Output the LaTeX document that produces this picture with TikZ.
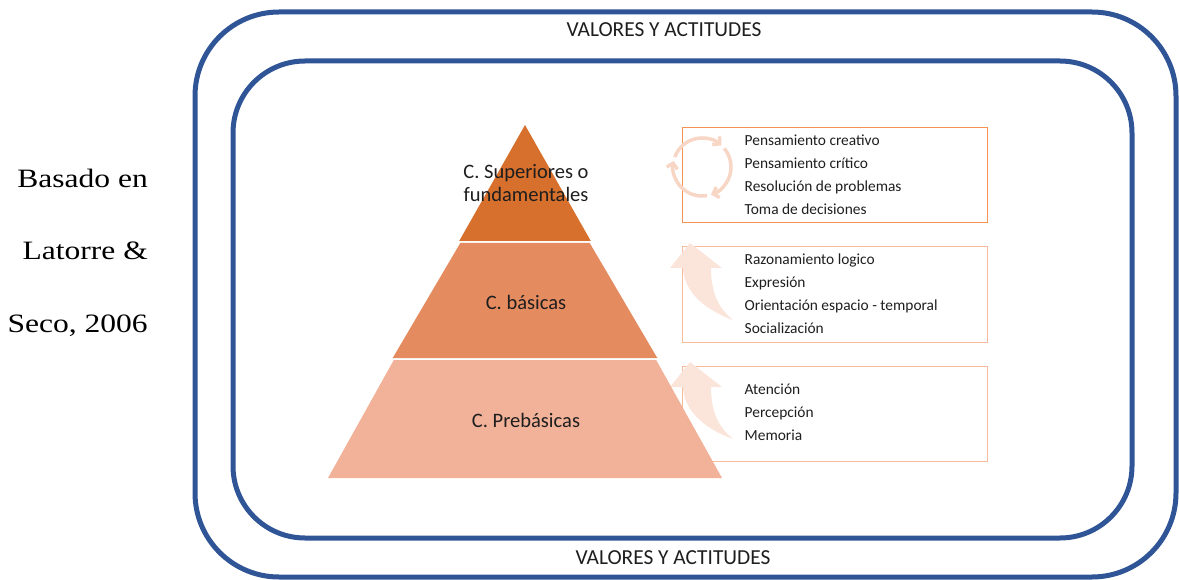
\documentclass[tikz,border=0pt]{standalone}
\usepackage{fontspec}
\setmainfont{Carlito}
\newfontfamily\refserif{Liberation Serif}
\definecolor{frameblue}{RGB}{47, 85, 151}
\definecolor{supdark}{RGB}{214, 112, 44}
\definecolor{basmid}{RGB}{229, 139, 96}
\definecolor{prelight}{RGB}{242, 178, 154}
\definecolor{boxorange}{RGB}{244, 146, 84}
\definecolor{boxpeach}{RGB}{248, 188, 156}
\definecolor{iconpeach}{RGB}{248, 214, 198}
\definecolor{arrowpeach}{RGB}{251, 229, 218}
\definecolor{textdark}{RGB}{30, 30, 30}
\usetikzlibrary{arrows.meta, positioning}

\begin{document}
\begin{tikzpicture}[x=1pt, y=-1pt,
  frame/.style={draw=frameblue, line width=5pt, rounded corners=#1},
  itembox/.style={draw=#1, line width=1pt, minimum width=305pt, minimum height=95pt, inner sep=0pt},
  items/.style={anchor=west, align=left, inner sep=0pt, text=textdark,
                font=\fontsize{15.4}{23}\selectfont},
  level/.style={text=textdark, align=center, inner sep=0pt,
                font=\fontsize{20.5}{22.5}\selectfont},
  valores/.style={text=textdark, inner sep=0pt, font=\fontsize{21.4}{24}\selectfont},
  source/.style={anchor=base east, inner sep=0pt, xscale=1.19,
                 font=\refserif\fontsize{26.5}{30}\selectfont},
]
\useasboundingbox (0,0) rectangle (1179,580);

% Frames: values and attitudes
\draw[frame=84pt] (195,12) rectangle (1176,577);
\draw[frame=72pt] (233,61) rectangle (1132,538);
\node[valores] (valtop) at (664,30) {VALORES Y ACTITUDES};
\node[valores] (valbot) at (673,558) {VALORES Y ACTITUDES};

% Source on the left
\node[source] (src1) at (148,188) {Basado en};
\node[source] (src2) at (148,260) {Latorre \&};
\node[source] (src3) at (148,333) {Seco, 2006};

% Boxes with the skills
\node[itembox=boxorange] (supbox) at (834.5,175.5) {};
\node[itembox=boxpeach] (basbox) at (834.5,294.5) {};
\node[itembox=boxpeach] (prebox) at (834.5,413.5) {};

% Faint icons behind the boxes
\coordinate (cycle) at (702,167);
\foreach \a in {-160, -40, 80}
  \draw[iconpeach, line width=3.5pt, -{Straight Barb[length=5pt, width=11pt]}]
    ([shift={(\a:29)}]cycle) arc[start angle=\a, delta angle=112, radius=29];
\foreach \dy in {0, 119}
  \fill[arrowpeach, shift={(0,\dy)}] (690,243) -- (722,268) -- (711,268)
    .. controls (711,292) and (718,308) .. (733,320)
    .. controls (705,310) and (684,292) .. (683,268) -- (670,268) -- cycle;

\node[items] (supitems) at ([xshift=63pt, yshift=1pt]supbox.west)
  {Pensamiento creativo\\Pensamiento crítico\\Resolución de problemas\\Toma de decisiones};
\node[items] (basitems) at ([xshift=63pt, yshift=1pt]basbox.west)
  {Razonamiento logico\\Expresión\\Orientación espacio - temporal\\Socialización};
\node[items] (preitems) at ([xshift=63pt, yshift=1.5pt]prebox.west)
  {Atención\\Percepción\\Memoria};

% Pyramid
\fill[prelight] (328,478) -- (722,478) -- (656.2,360) -- (393.8,360) -- cycle;
\fill[basmid] (392.7,358) -- (657.3,358) -- (589.7,243) -- (460.3,243) -- cycle;
\fill[supdark] (459.2,241) -- (590.8,241) -- (525,125) -- cycle;
\node[level] (sup) at (526,183) {C. Superiores o\\fundamentales};
\node[level] (bas) at (526,302) {C. básicas};
\node[level] (pre) at (526,420) {C. Prebásicas};
\end{tikzpicture}
\end{document}
